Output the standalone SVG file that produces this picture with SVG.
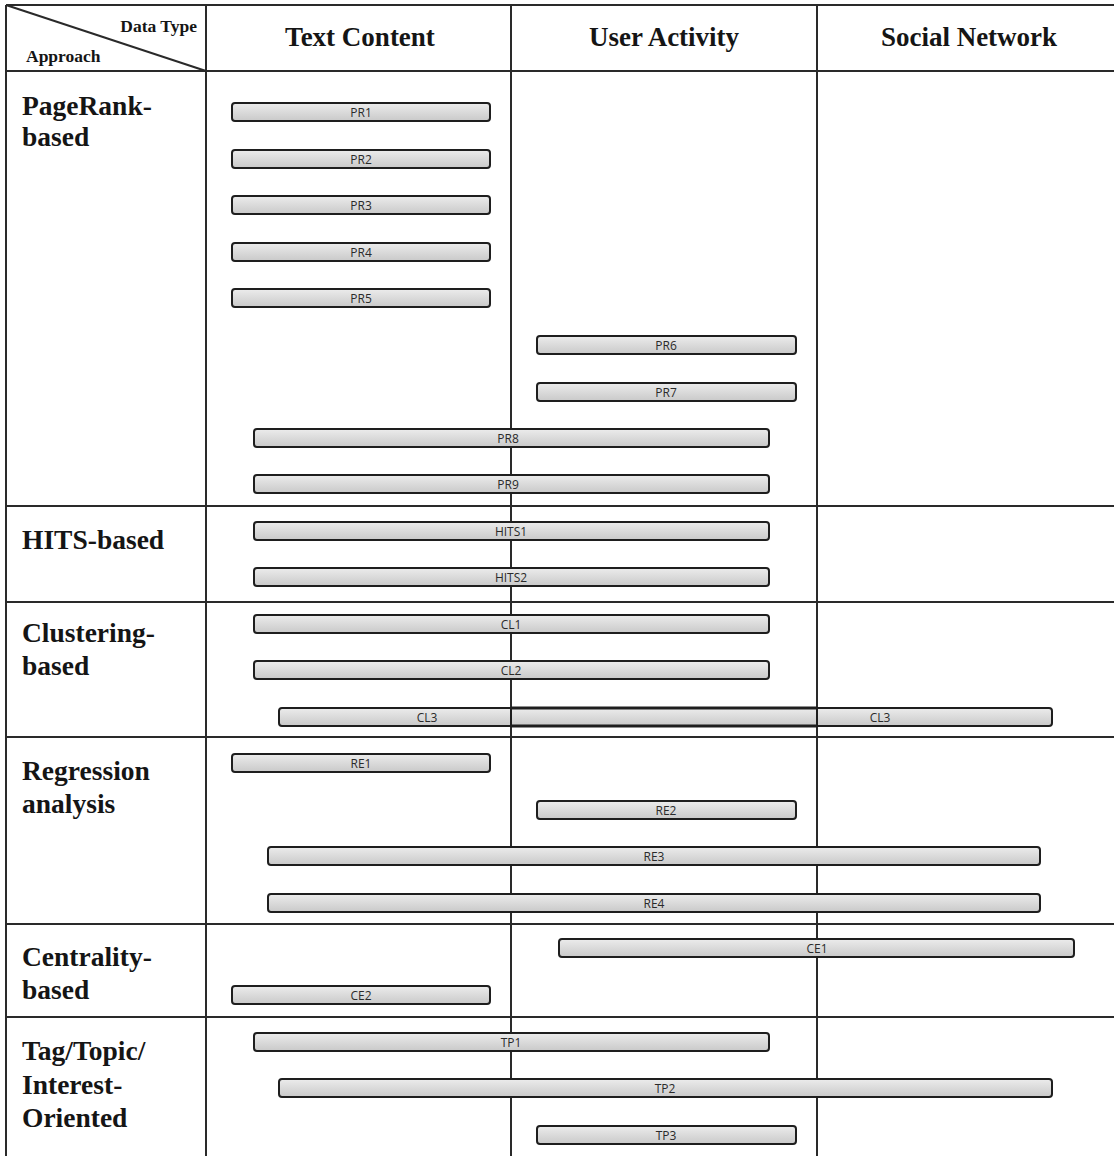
<svg xmlns="http://www.w3.org/2000/svg" width="1114" height="1156" viewBox="0 0 1114 1156">
  <style>
    .grid { stroke: #2a2a2a; stroke-width: 2; fill: none; }
    .hdr { font-family: "Liberation Serif", serif; font-weight: bold; font-size: 27px; fill: #151515; }
    .row { font-family: "Liberation Serif", serif; font-weight: bold; font-size: 27.5px; fill: #151515; }
    .corner { font-family: "Liberation Serif", serif; font-weight: bold; font-size: 17.5px; fill: #151515; }
    .bar rect { fill: url(#barFill); stroke: #1e1e1e; stroke-width: 2; }
    .bar text { font-family: "Open Sans", "DejaVu Sans", sans-serif; font-size: 12px; fill: #2a2a2a; text-anchor: middle; }
  </style>
  <defs>
    <linearGradient id="barFill" x1="0" y1="0" x2="0" y2="1">
      <stop offset="0" stop-color="#ececec"/>
      <stop offset="1" stop-color="#c9c9c9"/>
    </linearGradient>
  </defs>
  <rect width="1114" height="1156" fill="#ffffff"/>

  <!-- table grid -->
  <g id="grid" class="grid">
    <line x1="6" y1="5" x2="1114" y2="5"/>
    <line x1="6" y1="5" x2="6" y2="1156"/>
    <line x1="206" y1="5" x2="206" y2="1156"/>
    <line x1="511" y1="5" x2="511" y2="1156"/>
    <line x1="817" y1="5" x2="817" y2="1156"/>
    <line x1="6" y1="71" x2="1114" y2="71"/>
    <line x1="6" y1="506" x2="1114" y2="506"/>
    <line x1="6" y1="602" x2="1114" y2="602"/>
    <line x1="6" y1="737" x2="1114" y2="737"/>
    <line x1="6" y1="924" x2="1114" y2="924"/>
    <line x1="6" y1="1017" x2="1114" y2="1017"/>
    <line x1="6" y1="5" x2="206" y2="71"/>
  </g>

  <!-- header cells -->
  <g id="header">
    <text class="corner" x="197" y="32" text-anchor="end">Data Type</text>
    <text class="corner" x="26" y="62">Approach</text>
    <text class="hdr" x="360" y="46" text-anchor="middle">Text Content</text>
    <text class="hdr" x="664" y="46" text-anchor="middle">User Activity</text>
    <text class="hdr" x="969" y="46" text-anchor="middle">Social Network</text>
  </g>

  <!-- approach rows -->
  <g id="row-pagerank"><text class="row" x="22" y="115">PageRank-</text><text class="row" x="22" y="146">based</text></g>
  <g id="row-hits"><text class="row" x="22" y="549">HITS-based</text></g>
  <g id="row-clustering"><text class="row" x="22" y="642">Clustering-</text><text class="row" x="22" y="675">based</text></g>
  <g id="row-regression"><text class="row" x="22" y="780">Regression</text><text class="row" x="22" y="813">analysis</text></g>
  <g id="row-centrality"><text class="row" x="22" y="966">Centrality-</text><text class="row" x="22" y="999">based</text></g>
  <g id="row-tag"><text class="row" x="22" y="1060">Tag/Topic/</text><text class="row" x="22" y="1094">Interest-</text><text class="row" x="22" y="1127">Oriented</text></g>

  <!-- method bars -->
  <g id="PR1" class="bar"><rect x="232" y="103" width="258" height="18" rx="3"/><text x="361" y="117">PR1</text></g>
  <g id="PR2" class="bar"><rect x="232" y="150" width="258" height="18" rx="3"/><text x="361" y="164">PR2</text></g>
  <g id="PR3" class="bar"><rect x="232" y="196" width="258" height="18" rx="3"/><text x="361" y="210">PR3</text></g>
  <g id="PR4" class="bar"><rect x="232" y="243" width="258" height="18" rx="3"/><text x="361" y="257">PR4</text></g>
  <g id="PR5" class="bar"><rect x="232" y="289" width="258" height="18" rx="3"/><text x="361" y="303">PR5</text></g>
  <g id="PR6" class="bar"><rect x="537" y="336" width="259" height="18" rx="3"/><text x="666" y="350">PR6</text></g>
  <g id="PR7" class="bar"><rect x="537" y="383" width="259" height="18" rx="3"/><text x="666" y="397">PR7</text></g>
  <g id="PR8" class="bar"><rect x="254" y="429" width="515" height="18" rx="3"/><text x="508" y="443">PR8</text></g>
  <g id="PR9" class="bar"><rect x="254" y="475" width="515" height="18" rx="3"/><text x="508" y="489">PR9</text></g>
  <g id="HITS1" class="bar"><rect x="254" y="522" width="515" height="18" rx="3"/><text x="511" y="536">HITS1</text></g>
  <g id="HITS2" class="bar"><rect x="254" y="568" width="515" height="18" rx="3"/><text x="511" y="582">HITS2</text></g>
  <g id="CL1" class="bar"><rect x="254" y="615" width="515" height="18" rx="3"/><text x="511" y="629">CL1</text></g>
  <g id="CL2" class="bar"><rect x="254" y="661" width="515" height="18" rx="3"/><text x="511" y="675">CL2</text></g>
  <g id="CL3" class="bar">
    <rect x="279" y="708" width="773" height="18" rx="3"/>
    <line x1="511" y1="708" x2="817" y2="708" stroke="#1e1e1e" stroke-width="3"/>
    <line x1="511" y1="726" x2="817" y2="726" stroke="#1e1e1e" stroke-width="3"/>
    <line x1="511" y1="708" x2="511" y2="726" stroke="#1e1e1e" stroke-width="2"/>
    <line x1="817" y1="708" x2="817" y2="726" stroke="#1e1e1e" stroke-width="2"/>
    <text x="427" y="722">CL3</text><text x="880" y="722">CL3</text>
  </g>
  <g id="RE1" class="bar"><rect x="232" y="754" width="258" height="18" rx="3"/><text x="361" y="768">RE1</text></g>
  <g id="RE2" class="bar"><rect x="537" y="801" width="259" height="18" rx="3"/><text x="666" y="815">RE2</text></g>
  <g id="RE3" class="bar"><rect x="268" y="847" width="772" height="18" rx="3"/><text x="654" y="861">RE3</text></g>
  <g id="RE4" class="bar"><rect x="268" y="894" width="772" height="18" rx="3"/><text x="654" y="908">RE4</text></g>
  <g id="CE1" class="bar"><rect x="559" y="939" width="515" height="18" rx="3"/><text x="817" y="953">CE1</text></g>
  <g id="CE2" class="bar"><rect x="232" y="986" width="258" height="18" rx="3"/><text x="361" y="1000">CE2</text></g>
  <g id="TP1" class="bar"><rect x="254" y="1033" width="515" height="18" rx="3"/><text x="511" y="1047">TP1</text></g>
  <g id="TP2" class="bar"><rect x="279" y="1079" width="773" height="18" rx="3"/><text x="665" y="1093">TP2</text></g>
  <g id="TP3" class="bar"><rect x="537" y="1126" width="259" height="18" rx="3"/><text x="666" y="1140">TP3</text></g>

  <!-- no connectors in this chart -->
  <g id="connectors"/>
</svg>
